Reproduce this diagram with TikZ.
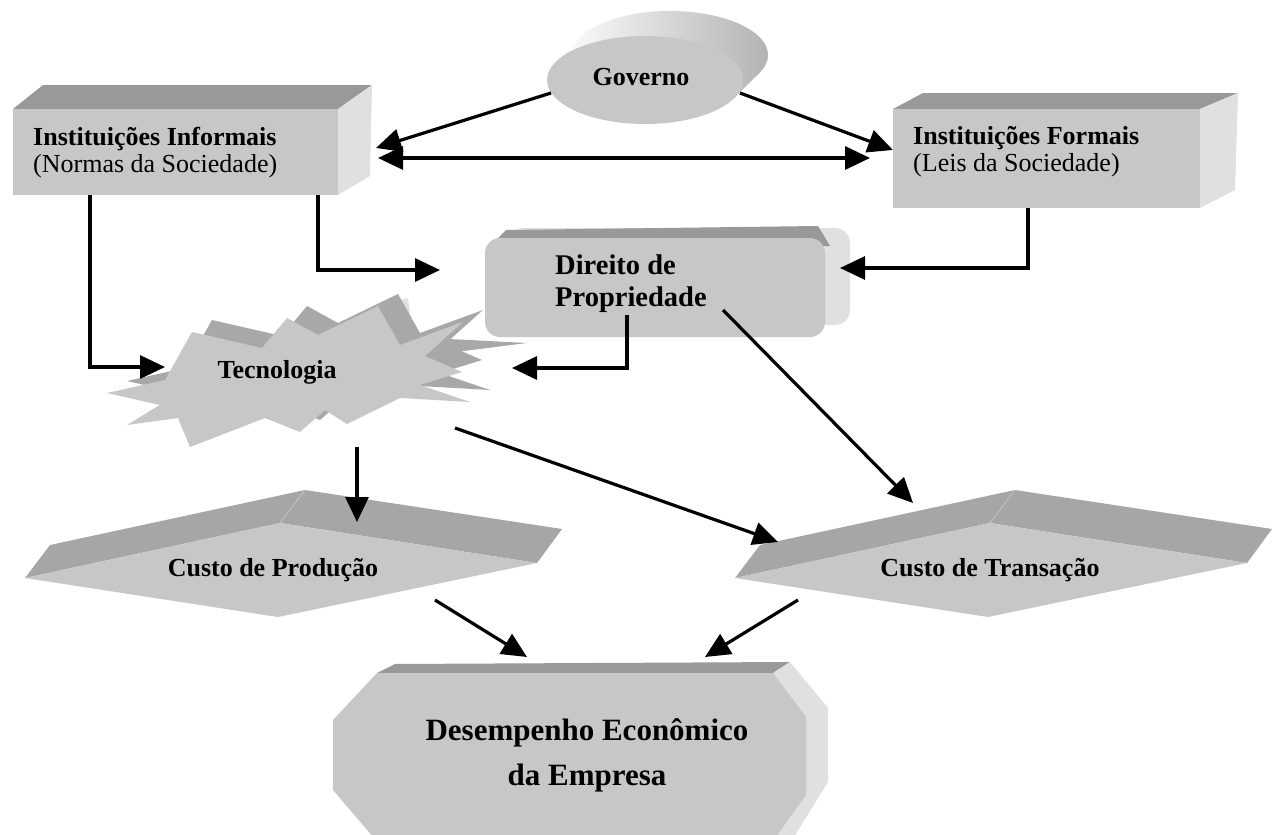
\documentclass[tikz,border=0pt]{standalone}
\usepackage{fontspec}
\setmainfont{Liberation Serif}
\usetikzlibrary{arrows.meta}

\definecolor{facegray}{gray}{0.78}
\definecolor{topgray}{gray}{0.60}
\definecolor{sidegray}{gray}{0.88}
\definecolor{costtop}{gray}{0.65}
\definecolor{startop}{gray}{0.66}

\tikzset{
  conn/.style={line width=3.2pt, -{Triangle[length=25pt,width=23pt]}},
  dconn/.style={line width=3.2pt, {Triangle[length=25pt,width=23pt]}-{Triangle[length=25pt,width=23pt]}},
  lbl/.style={inner sep=0pt, font=\fontsize{26}{27}\selectfont},
  blbl/.style={inner sep=0pt, font=\fontsize{26}{27}\selectfont\bfseries},
}

\begin{document}
\begin{tikzpicture}[x=1pt,y=-1pt]
    \clip (0,0) rectangle (1278,835);
    \fill[white] (0,0) rectangle (1278,835);

    % Governo (cylinder)
    \begin{scope}
      \clip (670,55) ellipse [x radius=98, y radius=44];
      \shade[left color=white, right color=black!30] (556,0) rectangle (770,140);
    \end{scope}
    \begin{scope}
      \clip (556,62) -- (734,98) -- (759,73) -- (581,37) -- cycle;
      \shade[left color=white, right color=black!30] (556,0) rectangle (770,140);
    \end{scope}
    \fill[facegray] (645,80) ellipse [x radius=98, y radius=44];
    \node[blbl] (gov) at (641,77) {Governo};

    % Instituicoes informais
    \fill[topgray] (13,109) -- (43,85) -- (372,85) -- (338,109) -- cycle;
    \fill[sidegray] (338,109) -- (372,85) -- (370,176) -- (338,195) -- cycle;
    \fill[facegray] (13,109) rectangle (338,195);
    \node[lbl, anchor=west, align=left] (infor) at (33,153)
      {\textbf{Instituições Informais}\\(Normas da Sociedade)};

    % Instituicoes formais
    \fill[topgray] (893,109) -- (923,93) -- (1238,93) -- (1200,109) -- cycle;
    \fill[sidegray] (1200,109) -- (1238,93) -- (1235,190) -- (1200,208) -- cycle;
    \fill[facegray] (893,109) rectangle (1200,208);
    \node[lbl, anchor=west, align=left] (formal) at (913,152)
      {\textbf{Instituições Formais}\\(Leis da Sociedade)};

    % Direito de propriedade
    \fill[sidegray, rounded corners=15pt] (508,228) rectangle (850,325);
    \fill[topgray] (490,246) -- (506,230) -- (818,226) -- (830,246) -- cycle;
    \fill[facegray, rounded corners=15pt] (485,238) rectangle (825,337);
    \node[inner sep=0pt, anchor=west, align=left, font=\fontsize{28.5}{32}\selectfont\bfseries]
      (direito) at (555,284) {Direito de\\Propriedade};

    % Tecnologia (star)
    \fill[startop] (430,338) -- (527,343) -- (440,354) -- cycle;
    \fill[sidegray] (372,308) -- (408,298) -- (414,345) -- (400,345) -- cycle;
    \foreach \dx/\dy/\col in {20/-12/startop, 0/0/facegray}
      \fill[\col, shift={(\dx,\dy)}] (107,393) -- (165,380) -- (192,332) -- (262,348)
        -- (287,318) -- (318,335) -- (378,306) -- (400,345) -- (463,322) -- (425,356)
        -- (462,372) -- (420,385) -- (470,402) -- (400,398) -- (347,424) -- (325,410)
        -- (300,432) -- (265,418) -- (190,447) -- (178,418) -- (127,425) -- (160,405) -- cycle;
    \node[blbl] (tec) at (277,372) {Tecnologia};

    % Custos
    \foreach \sx in {0,710} {
      \fill[costtop, shift={(\sx,0)}] (25,578) -- (50,545) -- (305,490) -- (562,529)
        -- (537,563) -- (280,523) -- cycle;
      \draw[black!15, line width=0.4pt, shift={(\sx,0)}] (280,523) -- (305,490);
      \fill[facegray, shift={(\sx,0)}] (25,578) -- (280,523) -- (537,563) -- (278,617) -- cycle;
    }
    \node[blbl] (prod) at (273,570) {Custo de Produção};
    \node[blbl] (trans) at (990,570) {Custo de Transação};

    % Desempenho
    \fill[topgray] (377,673) -- (395,664) -- (790,662) -- (773,673) -- cycle;
    \fill[sidegray] (773,673) -- (790,662) -- (828,708) -- (828,782) -- (792,840) -- (770,845) -- cycle;
    \fill[facegray] (377,673) -- (773,673) -- (806,717) -- (806,795) -- (770,845)
      -- (380,845) -- (333,790) -- (333,720) -- cycle;
    \node[inner sep=0pt, align=center, font=\fontsize{31}{45}\selectfont\bfseries]
      (desemp) at (587,755) {Desempenho Econômico\\da Empresa};

    % Conectores
    \coordinate (govL) at (551,93);
    \coordinate (govR) at (740,93);
    \coordinate (inforR) at (376,148);
    \coordinate (formalL) at (893,150);
    \coordinate (dblL) at (378,158);
    \coordinate (dblR) at (870,158);
    \coordinate (inforB1) at (90,195);
    \coordinate (inforB2) at (318,195);
    \coordinate (formalB) at (1028,208);
    \coordinate (direitoL) at (440,270);
    \coordinate (direitoR) at (840,268);
    \coordinate (direitoB) at (627,315);
    \coordinate (direitoS) at (723,310);
    \coordinate (tecL) at (165,367);
    \coordinate (tecR) at (512,368);
    \coordinate (tecB) at (357,447);
    \coordinate (tecS) at (455,428);
    \coordinate (prodT) at (357,522);
    \coordinate (prodS) at (435,600);
    \coordinate (transL) at (778,542);
    \coordinate (transT) at (913,503);
    \coordinate (transS) at (798,600);
    \coordinate (desempL) at (527,657);
    \coordinate (desempR) at (705,657);

    \draw[conn] (govL) -- (inforR);
    \draw[conn] (govR) -- (formalL);
    \draw[dconn] (dblL) -- (dblR);
    \draw[conn] (inforB1) |- (tecL);
    \draw[conn] (inforB2) |- (direitoL);
    \draw[conn] (formalB) |- (direitoR);
    \draw[conn] (direitoB) |- (tecR);
    \draw[conn] (direitoS) -- (transT);
    \draw[conn] (tecS) -- (transL);
    \draw[conn] (tecB) -- (prodT);
    \draw[conn] (prodS) -- (desempL);
    \draw[conn] (transS) -- (desempR);
\end{tikzpicture}
\end{document}
